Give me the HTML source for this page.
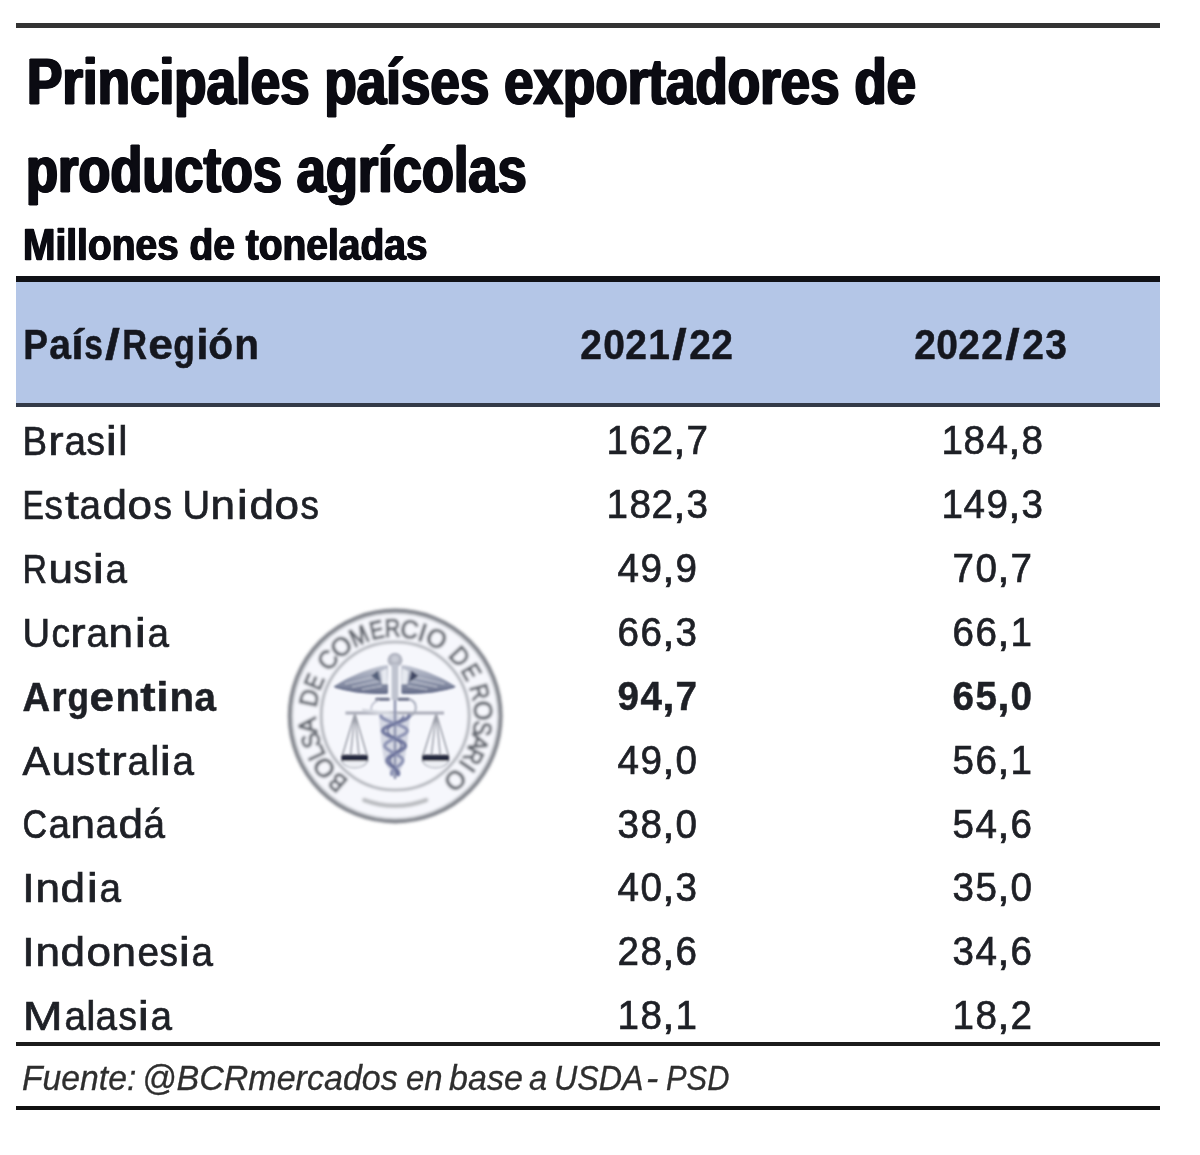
<!DOCTYPE html>
<html><head><meta charset="utf-8"><title>Principales países exportadores de productos agrícolas</title>
<style>
html,body{margin:0;padding:0;background:#fff;}
body{width:1200px;height:1155px;position:relative;overflow:hidden;font-family:"Liberation Sans",sans-serif;}
.t{position:absolute;white-space:nowrap;}
.ln{position:absolute;}
.c{display:inline-block;text-align:center;margin:0 -12px;}
#wrap{position:absolute;left:0;top:0;width:1200px;height:1155px;filter:blur(0.55px);}
</style></head><body><div id="wrap">
<div class="ln" style="left:16px;top:23.4px;width:1143.8px;height:4.7px;background:#333"></div>
<div class="ln" style="left:16.4px;top:276.4px;width:1143.4px;height:6px;background:#101116"></div>
<div class="ln" style="left:16.4px;top:282px;width:1143.4px;height:121px;background:#b4c6e7"></div>
<div class="ln" style="left:16.4px;top:402.7px;width:1143.4px;height:4.8px;background:#333a48"></div>
<div class="ln" style="left:16px;top:1042px;width:1144px;height:4px;background:#1c1c1c"></div>
<div class="ln" style="left:16px;top:1106px;width:1144px;height:4px;background:#111"></div>
<div class="t" style="left:26.6px;transform-origin:0 50%;top:42.87px;height:78px;line-height:78px;font-size:65px;font-weight:bold;font-style:normal;color:#0b0b12;transform:scaleX(0.815);-webkit-text-stroke:1px #0b0b12;text-shadow:1.4px 0 0 #0b0b12,-1.4px 0 0 #0b0b12;">Principales países exportadores de</div>
<div class="t" style="left:26.4px;transform-origin:0 50%;top:131.07px;height:78px;line-height:78px;font-size:65px;font-weight:bold;font-style:normal;color:#0b0b12;transform:scaleX(0.806);-webkit-text-stroke:1px #0b0b12;text-shadow:1.4px 0 0 #0b0b12,-1.4px 0 0 #0b0b12;">productos agrícolas</div>
<div class="t" style="left:22.6px;transform-origin:0 50%;top:218.92px;height:52px;line-height:52px;font-size:43.5px;font-weight:bold;font-style:normal;color:#0b0b12;transform:scaleX(0.895);-webkit-text-stroke:0.5px #0b0b12;text-shadow:0.8px 0 0 #0b0b12,-0.8px 0 0 #0b0b12;">Millones de toneladas</div>
<div class="t" style="left:23.20px;top:318.29px;height:52px;line-height:52px;font-size:43px;font-weight:bold;color:#15171f;-webkit-text-stroke:0.5px #15171f;"><span class="c" style="width:49.54px;transform:scaleX(0.864)">P</span><span class="c" style="width:46.35px;transform:scaleX(0.907)">a</span><span class="c" style="width:36.77px;transform:scaleX(1.037)">í</span><span class="c" style="width:43.16px;transform:scaleX(0.780)">s</span><span class="c" style="width:43.16px;transform:scaleX(1.250)">/</span><span class="c" style="width:49.54px;transform:scaleX(0.798)">R</span><span class="c" style="width:49.54px;transform:scaleX(1.036)">e</span><span class="c" style="width:46.35px;transform:scaleX(0.825)">g</span><span class="c" style="width:36.77px;transform:scaleX(1.037)">i</span><span class="c" style="width:49.54px;transform:scaleX(0.943)">ó</span><span class="c" style="width:49.54px;transform:scaleX(0.943)">n</span></div>
<div class="t" style="left:580.47px;top:320.18px;height:50px;line-height:50px;font-size:41.6px;font-weight:bold;color:#15171f;-webkit-text-stroke:0.5px #15171f;"><span class="c" style="width:46.35px;transform:scaleX(0.937)">2</span><span class="c" style="width:46.35px;transform:scaleX(0.937)">0</span><span class="c" style="width:46.35px;transform:scaleX(0.937)">2</span><span class="c" style="width:46.35px;transform:scaleX(0.937)">1</span><span class="c" style="width:43.16px;transform:scaleX(1.250)">/</span><span class="c" style="width:46.35px;transform:scaleX(0.937)">2</span><span class="c" style="width:46.35px;transform:scaleX(0.937)">2</span></div>
<div class="t" style="left:913.67px;top:320.18px;height:50px;line-height:50px;font-size:41.6px;font-weight:bold;color:#15171f;-webkit-text-stroke:0.5px #15171f;"><span class="c" style="width:46.35px;transform:scaleX(0.937)">2</span><span class="c" style="width:46.35px;transform:scaleX(0.937)">0</span><span class="c" style="width:46.35px;transform:scaleX(0.937)">2</span><span class="c" style="width:46.35px;transform:scaleX(0.937)">2</span><span class="c" style="width:43.16px;transform:scaleX(1.250)">/</span><span class="c" style="width:46.35px;transform:scaleX(0.937)">2</span><span class="c" style="width:46.35px;transform:scaleX(0.937)">3</span></div>
<div class="t" style="left:22.00px;top:417.23px;height:48px;line-height:48px;font-size:40px;font-weight:normal;color:#1e2026;-webkit-text-stroke:0.7px #1e2026;"><span class="c" style="width:49.54px;transform:scaleX(0.919)">B</span><span class="c" style="width:39.97px;transform:scaleX(1.151)">r</span><span class="c" style="width:46.35px;transform:scaleX(0.965)">a</span><span class="c" style="width:43.16px;transform:scaleX(0.920)">s</span><span class="c" style="width:36.77px;transform:scaleX(1.250)">i</span><span class="c" style="width:33.58px;transform:scaleX(1.035)">l</span></div>
<div class="t" style="left:606.31px;top:416.39px;height:49px;line-height:49px;font-size:41px;font-weight:normal;color:#1e2026;-webkit-text-stroke:0.7px #1e2026;"><span class="c" style="width:46.35px;transform:scaleX(0.941)">1</span><span class="c" style="width:46.35px;transform:scaleX(0.941)">6</span><span class="c" style="width:46.35px;transform:scaleX(0.941)">2</span><span class="c" style="width:36.77px;transform:scaleX(1.076)">,</span><span class="c" style="width:46.35px;transform:scaleX(0.941)">7</span></div>
<div class="t" style="left:941.11px;top:416.39px;height:49px;line-height:49px;font-size:41px;font-weight:normal;color:#1e2026;-webkit-text-stroke:0.7px #1e2026;"><span class="c" style="width:46.35px;transform:scaleX(0.941)">1</span><span class="c" style="width:46.35px;transform:scaleX(0.941)">8</span><span class="c" style="width:46.35px;transform:scaleX(0.941)">4</span><span class="c" style="width:36.77px;transform:scaleX(1.076)">,</span><span class="c" style="width:46.35px;transform:scaleX(0.941)">8</span></div>
<div class="t" style="left:22.00px;top:481.09px;height:48px;line-height:48px;font-size:40px;font-weight:normal;color:#1e2026;-webkit-text-stroke:0.7px #1e2026;"><span class="c" style="width:46.35px;transform:scaleX(0.804)">E</span><span class="c" style="width:43.16px;transform:scaleX(0.920)">s</span><span class="c" style="width:39.97px;transform:scaleX(1.250)">t</span><span class="c" style="width:46.35px;transform:scaleX(0.965)">a</span><span class="c" style="width:49.54px;transform:scaleX(1.102)">d</span><span class="c" style="width:49.54px;transform:scaleX(1.102)">o</span><span class="c" style="width:43.16px;transform:scaleX(0.920)">s</span><span class="c" style="width:33.58px">&nbsp;</span><span class="c" style="width:52.74px;transform:scaleX(0.955)">U</span><span class="c" style="width:49.54px;transform:scaleX(1.102)">n</span><span class="c" style="width:36.77px;transform:scaleX(1.250)">i</span><span class="c" style="width:49.54px;transform:scaleX(1.102)">d</span><span class="c" style="width:49.54px;transform:scaleX(1.102)">o</span><span class="c" style="width:43.16px;transform:scaleX(0.920)">s</span></div>
<div class="t" style="left:606.31px;top:480.25px;height:49px;line-height:49px;font-size:41px;font-weight:normal;color:#1e2026;-webkit-text-stroke:0.7px #1e2026;"><span class="c" style="width:46.35px;transform:scaleX(0.941)">1</span><span class="c" style="width:46.35px;transform:scaleX(0.941)">8</span><span class="c" style="width:46.35px;transform:scaleX(0.941)">2</span><span class="c" style="width:36.77px;transform:scaleX(1.076)">,</span><span class="c" style="width:46.35px;transform:scaleX(0.941)">3</span></div>
<div class="t" style="left:941.11px;top:480.25px;height:49px;line-height:49px;font-size:41px;font-weight:normal;color:#1e2026;-webkit-text-stroke:0.7px #1e2026;"><span class="c" style="width:46.35px;transform:scaleX(0.941)">1</span><span class="c" style="width:46.35px;transform:scaleX(0.941)">4</span><span class="c" style="width:46.35px;transform:scaleX(0.941)">9</span><span class="c" style="width:36.77px;transform:scaleX(1.076)">,</span><span class="c" style="width:46.35px;transform:scaleX(0.941)">3</span></div>
<div class="t" style="left:22.00px;top:544.95px;height:48px;line-height:48px;font-size:40px;font-weight:normal;color:#1e2026;-webkit-text-stroke:0.7px #1e2026;"><span class="c" style="width:49.54px;transform:scaleX(0.849)">R</span><span class="c" style="width:49.54px;transform:scaleX(1.102)">u</span><span class="c" style="width:43.16px;transform:scaleX(0.920)">s</span><span class="c" style="width:36.77px;transform:scaleX(1.250)">i</span><span class="c" style="width:46.35px;transform:scaleX(0.965)">a</span></div>
<div class="t" style="left:617.49px;top:544.11px;height:49px;line-height:49px;font-size:41px;font-weight:normal;color:#1e2026;-webkit-text-stroke:0.7px #1e2026;"><span class="c" style="width:46.35px;transform:scaleX(0.941)">4</span><span class="c" style="width:46.35px;transform:scaleX(0.941)">9</span><span class="c" style="width:36.77px;transform:scaleX(1.076)">,</span><span class="c" style="width:46.35px;transform:scaleX(0.941)">9</span></div>
<div class="t" style="left:952.29px;top:544.11px;height:49px;line-height:49px;font-size:41px;font-weight:normal;color:#1e2026;-webkit-text-stroke:0.7px #1e2026;"><span class="c" style="width:46.35px;transform:scaleX(0.941)">7</span><span class="c" style="width:46.35px;transform:scaleX(0.941)">0</span><span class="c" style="width:36.77px;transform:scaleX(1.076)">,</span><span class="c" style="width:46.35px;transform:scaleX(0.941)">7</span></div>
<div class="t" style="left:22.00px;top:608.81px;height:48px;line-height:48px;font-size:40px;font-weight:normal;color:#1e2026;-webkit-text-stroke:0.7px #1e2026;"><span class="c" style="width:52.74px;transform:scaleX(0.955)">U</span><span class="c" style="width:43.16px;transform:scaleX(0.920)">c</span><span class="c" style="width:39.97px;transform:scaleX(1.151)">r</span><span class="c" style="width:46.35px;transform:scaleX(0.965)">a</span><span class="c" style="width:49.54px;transform:scaleX(1.102)">n</span><span class="c" style="width:36.77px;transform:scaleX(1.250)">i</span><span class="c" style="width:46.35px;transform:scaleX(0.965)">a</span></div>
<div class="t" style="left:617.49px;top:607.97px;height:49px;line-height:49px;font-size:41px;font-weight:normal;color:#1e2026;-webkit-text-stroke:0.7px #1e2026;"><span class="c" style="width:46.35px;transform:scaleX(0.941)">6</span><span class="c" style="width:46.35px;transform:scaleX(0.941)">6</span><span class="c" style="width:36.77px;transform:scaleX(1.076)">,</span><span class="c" style="width:46.35px;transform:scaleX(0.941)">3</span></div>
<div class="t" style="left:952.29px;top:607.97px;height:49px;line-height:49px;font-size:41px;font-weight:normal;color:#1e2026;-webkit-text-stroke:0.7px #1e2026;"><span class="c" style="width:46.35px;transform:scaleX(0.941)">6</span><span class="c" style="width:46.35px;transform:scaleX(0.941)">6</span><span class="c" style="width:36.77px;transform:scaleX(1.076)">,</span><span class="c" style="width:46.35px;transform:scaleX(0.941)">1</span></div>
<div class="t" style="left:22.00px;top:672.67px;height:48px;line-height:48px;font-size:40px;font-weight:bold;color:#1e2026;-webkit-text-stroke:0.5px #1e2026;"><span class="c" style="width:52.74px;transform:scaleX(0.955)">A</span><span class="c" style="width:39.97px;transform:scaleX(0.985)">r</span><span class="c" style="width:46.35px;transform:scaleX(0.878)">g</span><span class="c" style="width:49.54px;transform:scaleX(1.102)">e</span><span class="c" style="width:49.54px;transform:scaleX(1.004)">n</span><span class="c" style="width:39.97px;transform:scaleX(1.151)">t</span><span class="c" style="width:36.77px;transform:scaleX(1.103)">i</span><span class="c" style="width:49.54px;transform:scaleX(1.004)">n</span><span class="c" style="width:46.35px;transform:scaleX(0.965)">a</span></div>
<div class="t" style="left:617.49px;top:671.83px;height:49px;line-height:49px;font-size:41px;font-weight:bold;color:#1e2026;-webkit-text-stroke:0.5px #1e2026;"><span class="c" style="width:46.35px;transform:scaleX(0.941)">9</span><span class="c" style="width:46.35px;transform:scaleX(0.941)">4</span><span class="c" style="width:36.77px;transform:scaleX(1.076)">,</span><span class="c" style="width:46.35px;transform:scaleX(0.941)">7</span></div>
<div class="t" style="left:952.29px;top:671.83px;height:49px;line-height:49px;font-size:41px;font-weight:bold;color:#1e2026;-webkit-text-stroke:0.5px #1e2026;"><span class="c" style="width:46.35px;transform:scaleX(0.941)">6</span><span class="c" style="width:46.35px;transform:scaleX(0.941)">5</span><span class="c" style="width:36.77px;transform:scaleX(1.076)">,</span><span class="c" style="width:46.35px;transform:scaleX(0.941)">0</span></div>
<div class="t" style="left:22.00px;top:736.53px;height:48px;line-height:48px;font-size:40px;font-weight:normal;color:#1e2026;-webkit-text-stroke:0.7px #1e2026;"><span class="c" style="width:52.74px;transform:scaleX(1.034)">A</span><span class="c" style="width:49.54px;transform:scaleX(1.102)">u</span><span class="c" style="width:43.16px;transform:scaleX(0.920)">s</span><span class="c" style="width:39.97px;transform:scaleX(1.250)">t</span><span class="c" style="width:39.97px;transform:scaleX(1.151)">r</span><span class="c" style="width:46.35px;transform:scaleX(0.965)">a</span><span class="c" style="width:33.58px;transform:scaleX(1.035)">l</span><span class="c" style="width:36.77px;transform:scaleX(1.250)">i</span><span class="c" style="width:46.35px;transform:scaleX(0.965)">a</span></div>
<div class="t" style="left:617.49px;top:735.69px;height:49px;line-height:49px;font-size:41px;font-weight:normal;color:#1e2026;-webkit-text-stroke:0.7px #1e2026;"><span class="c" style="width:46.35px;transform:scaleX(0.941)">4</span><span class="c" style="width:46.35px;transform:scaleX(0.941)">9</span><span class="c" style="width:36.77px;transform:scaleX(1.076)">,</span><span class="c" style="width:46.35px;transform:scaleX(0.941)">0</span></div>
<div class="t" style="left:952.29px;top:735.69px;height:49px;line-height:49px;font-size:41px;font-weight:normal;color:#1e2026;-webkit-text-stroke:0.7px #1e2026;"><span class="c" style="width:46.35px;transform:scaleX(0.941)">5</span><span class="c" style="width:46.35px;transform:scaleX(0.941)">6</span><span class="c" style="width:36.77px;transform:scaleX(1.076)">,</span><span class="c" style="width:46.35px;transform:scaleX(0.941)">1</span></div>
<div class="t" style="left:22.00px;top:800.39px;height:48px;line-height:48px;font-size:40px;font-weight:normal;color:#1e2026;-webkit-text-stroke:0.7px #1e2026;"><span class="c" style="width:49.54px;transform:scaleX(0.849)">C</span><span class="c" style="width:46.35px;transform:scaleX(0.965)">a</span><span class="c" style="width:49.54px;transform:scaleX(1.102)">n</span><span class="c" style="width:46.35px;transform:scaleX(0.965)">a</span><span class="c" style="width:49.54px;transform:scaleX(1.102)">d</span><span class="c" style="width:46.35px;transform:scaleX(0.965)">á</span></div>
<div class="t" style="left:617.49px;top:799.55px;height:49px;line-height:49px;font-size:41px;font-weight:normal;color:#1e2026;-webkit-text-stroke:0.7px #1e2026;"><span class="c" style="width:46.35px;transform:scaleX(0.941)">3</span><span class="c" style="width:46.35px;transform:scaleX(0.941)">8</span><span class="c" style="width:36.77px;transform:scaleX(1.076)">,</span><span class="c" style="width:46.35px;transform:scaleX(0.941)">0</span></div>
<div class="t" style="left:952.29px;top:799.55px;height:49px;line-height:49px;font-size:41px;font-weight:normal;color:#1e2026;-webkit-text-stroke:0.7px #1e2026;"><span class="c" style="width:46.35px;transform:scaleX(0.941)">5</span><span class="c" style="width:46.35px;transform:scaleX(0.941)">4</span><span class="c" style="width:36.77px;transform:scaleX(1.076)">,</span><span class="c" style="width:46.35px;transform:scaleX(0.941)">6</span></div>
<div class="t" style="left:22.00px;top:864.25px;height:48px;line-height:48px;font-size:40px;font-weight:normal;color:#1e2026;-webkit-text-stroke:0.7px #1e2026;"><span class="c" style="width:36.77px;transform:scaleX(1.103)">I</span><span class="c" style="width:49.54px;transform:scaleX(1.102)">n</span><span class="c" style="width:49.54px;transform:scaleX(1.102)">d</span><span class="c" style="width:36.77px;transform:scaleX(1.250)">i</span><span class="c" style="width:46.35px;transform:scaleX(0.965)">a</span></div>
<div class="t" style="left:617.49px;top:863.41px;height:49px;line-height:49px;font-size:41px;font-weight:normal;color:#1e2026;-webkit-text-stroke:0.7px #1e2026;"><span class="c" style="width:46.35px;transform:scaleX(0.941)">4</span><span class="c" style="width:46.35px;transform:scaleX(0.941)">0</span><span class="c" style="width:36.77px;transform:scaleX(1.076)">,</span><span class="c" style="width:46.35px;transform:scaleX(0.941)">3</span></div>
<div class="t" style="left:952.29px;top:863.41px;height:49px;line-height:49px;font-size:41px;font-weight:normal;color:#1e2026;-webkit-text-stroke:0.7px #1e2026;"><span class="c" style="width:46.35px;transform:scaleX(0.941)">3</span><span class="c" style="width:46.35px;transform:scaleX(0.941)">5</span><span class="c" style="width:36.77px;transform:scaleX(1.076)">,</span><span class="c" style="width:46.35px;transform:scaleX(0.941)">0</span></div>
<div class="t" style="left:22.00px;top:928.11px;height:48px;line-height:48px;font-size:40px;font-weight:normal;color:#1e2026;-webkit-text-stroke:0.7px #1e2026;"><span class="c" style="width:36.77px;transform:scaleX(1.103)">I</span><span class="c" style="width:49.54px;transform:scaleX(1.102)">n</span><span class="c" style="width:49.54px;transform:scaleX(1.102)">d</span><span class="c" style="width:49.54px;transform:scaleX(1.102)">o</span><span class="c" style="width:49.54px;transform:scaleX(1.102)">n</span><span class="c" style="width:46.35px;transform:scaleX(0.965)">e</span><span class="c" style="width:43.16px;transform:scaleX(0.920)">s</span><span class="c" style="width:36.77px;transform:scaleX(1.250)">i</span><span class="c" style="width:46.35px;transform:scaleX(0.965)">a</span></div>
<div class="t" style="left:617.49px;top:927.27px;height:49px;line-height:49px;font-size:41px;font-weight:normal;color:#1e2026;-webkit-text-stroke:0.7px #1e2026;"><span class="c" style="width:46.35px;transform:scaleX(0.941)">2</span><span class="c" style="width:46.35px;transform:scaleX(0.941)">8</span><span class="c" style="width:36.77px;transform:scaleX(1.076)">,</span><span class="c" style="width:46.35px;transform:scaleX(0.941)">6</span></div>
<div class="t" style="left:952.29px;top:927.27px;height:49px;line-height:49px;font-size:41px;font-weight:normal;color:#1e2026;-webkit-text-stroke:0.7px #1e2026;"><span class="c" style="width:46.35px;transform:scaleX(0.941)">3</span><span class="c" style="width:46.35px;transform:scaleX(0.941)">4</span><span class="c" style="width:36.77px;transform:scaleX(1.076)">,</span><span class="c" style="width:46.35px;transform:scaleX(0.941)">6</span></div>
<div class="t" style="left:22.00px;top:991.97px;height:48px;line-height:48px;font-size:40px;font-weight:normal;color:#1e2026;-webkit-text-stroke:0.7px #1e2026;"><span class="c" style="width:65.51px;transform:scaleX(1.196)">M</span><span class="c" style="width:46.35px;transform:scaleX(0.965)">a</span><span class="c" style="width:33.58px;transform:scaleX(1.035)">l</span><span class="c" style="width:46.35px;transform:scaleX(0.965)">a</span><span class="c" style="width:43.16px;transform:scaleX(0.920)">s</span><span class="c" style="width:36.77px;transform:scaleX(1.250)">i</span><span class="c" style="width:46.35px;transform:scaleX(0.965)">a</span></div>
<div class="t" style="left:617.49px;top:991.13px;height:49px;line-height:49px;font-size:41px;font-weight:normal;color:#1e2026;-webkit-text-stroke:0.7px #1e2026;"><span class="c" style="width:46.35px;transform:scaleX(0.941)">1</span><span class="c" style="width:46.35px;transform:scaleX(0.941)">8</span><span class="c" style="width:36.77px;transform:scaleX(1.076)">,</span><span class="c" style="width:46.35px;transform:scaleX(0.941)">1</span></div>
<div class="t" style="left:952.29px;top:991.13px;height:49px;line-height:49px;font-size:41px;font-weight:normal;color:#1e2026;-webkit-text-stroke:0.7px #1e2026;"><span class="c" style="width:46.35px;transform:scaleX(0.941)">1</span><span class="c" style="width:46.35px;transform:scaleX(0.941)">8</span><span class="c" style="width:36.77px;transform:scaleX(1.076)">,</span><span class="c" style="width:46.35px;transform:scaleX(0.941)">2</span></div>
<div class="t" style="left:22.34px;transform-origin:0 50%;top:1056.87px;height:42px;line-height:42px;font-size:35px;font-weight:normal;font-style:italic;color:#2e2e2e;transform:scaleX(0.963);-webkit-text-stroke:0.3px #2e2e2e;">Fuente:</div>
<div class="t" style="left:142.08px;transform-origin:0 50%;top:1056.87px;height:42px;line-height:42px;font-size:35px;font-weight:normal;font-style:italic;color:#2e2e2e;transform:scaleX(0.972);-webkit-text-stroke:0.3px #2e2e2e;">@BCRmercados</div>
<div class="t" style="left:406.26px;transform-origin:0 50%;top:1056.87px;height:42px;line-height:42px;font-size:35px;font-weight:normal;font-style:italic;color:#2e2e2e;transform:scaleX(0.939);-webkit-text-stroke:0.3px #2e2e2e;">en</div>
<div class="t" style="left:449.03px;transform-origin:0 50%;top:1056.87px;height:42px;line-height:42px;font-size:35px;font-weight:normal;font-style:italic;color:#2e2e2e;transform:scaleX(0.973);-webkit-text-stroke:0.3px #2e2e2e;">base</div>
<div class="t" style="left:529.27px;transform-origin:0 50%;top:1056.87px;height:42px;line-height:42px;font-size:35px;font-weight:normal;font-style:italic;color:#2e2e2e;transform:scaleX(0.929);-webkit-text-stroke:0.3px #2e2e2e;">a</div>
<div class="t" style="left:554.34px;transform-origin:0 50%;top:1056.87px;height:42px;line-height:42px;font-size:35px;font-weight:normal;font-style:italic;color:#2e2e2e;transform:scaleX(0.921);-webkit-text-stroke:0.3px #2e2e2e;">USDA</div>
<div class="t" style="left:646.09px;transform-origin:0 50%;top:1056.87px;height:42px;line-height:42px;font-size:35px;font-weight:normal;font-style:italic;color:#2e2e2e;transform:scaleX(1.056);-webkit-text-stroke:0.3px #2e2e2e;">-</div>
<div class="t" style="left:666.32px;transform-origin:0 50%;top:1056.87px;height:42px;line-height:42px;font-size:35px;font-weight:normal;font-style:italic;color:#2e2e2e;transform:scaleX(0.881);-webkit-text-stroke:0.3px #2e2e2e;">PSD</div>

<svg id="logo" width="240" height="240" viewBox="276 596 240 240" style="position:absolute;left:276px;top:596px;overflow:visible">
<defs>
<filter id="bl" x="-5%" y="-5%" width="110%" height="110%"><feGaussianBlur stdDeviation="1.5"/></filter>
<filter id="bl2" x="-5%" y="-5%" width="110%" height="110%"><feGaussianBlur stdDeviation="1.1"/></filter>
<linearGradient id="wg" x1="0" y1="0" x2="0" y2="1"><stop offset="0" stop-color="#c3c7d3"/><stop offset="0.55" stop-color="#9299ae"/><stop offset="1" stop-color="#666e8a"/></linearGradient>
<linearGradient id="bg" x1="0" y1="0" x2="1" y2="0"><stop offset="0" stop-color="#a5aac0"/><stop offset="0.5" stop-color="#8087a8"/><stop offset="1" stop-color="#a9aec4"/></linearGradient>
</defs>
<g filter="url(#bl)">
<circle cx="395.2" cy="716.0" r="105.2" fill="#f6f7fc" stroke="#7f828a" stroke-width="4.4"/>
<circle cx="395.2" cy="716.0" r="102.8" fill="none" stroke="#c9ccd1" stroke-width="1.6"/>
<circle cx="395.2" cy="716.0" r="74" fill="none" stroke="#a4a7ae" stroke-width="2.6"/>
<path d="M364.26,800.09 A89.6,89.6 0 0 0 426.14,800.09" fill="none" stroke="#b9bbbf" stroke-width="4.6" stroke-linecap="round"/>
<g font-family="Liberation Sans, sans-serif" font-size="25.4" fill="#62666e" stroke="#62666e" stroke-width="1.2" text-anchor="middle"><text transform="rotate(-139.0 395.2 716.0) translate(395.2 636.8) scale(0.86 1)" x="0" y="0">B</text><text transform="rotate(-126.1 395.2 716.0) translate(395.2 636.8) scale(1.0 1)" x="0" y="0">O</text><text transform="rotate(-115.0 395.2 716.0) translate(395.2 636.8) scale(0.88 1)" x="0" y="0">L</text><text transform="rotate(-106.2 395.2 716.0) translate(395.2 636.8) scale(0.86 1)" x="0" y="0">S</text><text transform="rotate(-96.2 395.2 716.0) translate(395.2 636.8) scale(0.95 1)" x="0" y="0">A</text><text transform="rotate(-78.0 395.2 716.0) translate(395.2 636.8) scale(0.93 1)" x="0" y="0">D</text><text transform="rotate(-67.0 395.2 716.0) translate(395.2 636.8) scale(0.82 1)" x="0" y="0">E</text><text transform="rotate(-50.2 395.2 716.0) translate(395.2 636.8) scale(0.97 1)" x="0" y="0">C</text><text transform="rotate(-37.8 395.2 716.0) translate(395.2 636.8) scale(1.0 1)" x="0" y="0">O</text><text transform="rotate(-24.4 395.2 716.0) translate(395.2 636.8) scale(0.86 1)" x="0" y="0">M</text><text transform="rotate(-12.2 395.2 716.0) translate(395.2 636.8) scale(0.82 1)" x="0" y="0">E</text><text transform="rotate(-1.8 395.2 716.0) translate(395.2 636.8) scale(0.85 1)" x="0" y="0">R</text><text transform="rotate(9.4 395.2 716.0) translate(395.2 636.8) scale(0.97 1)" x="0" y="0">C</text><text transform="rotate(18.2 395.2 716.0) translate(395.2 636.8) scale(1.0 1)" x="0" y="0">I</text><text transform="rotate(28.0 395.2 716.0) translate(395.2 636.8) scale(1.0 1)" x="0" y="0">O</text><text transform="rotate(47.3 395.2 716.0) translate(395.2 636.8) scale(0.93 1)" x="0" y="0">D</text><text transform="rotate(59.8 395.2 716.0) translate(395.2 636.8) scale(0.82 1)" x="0" y="0">E</text><text transform="rotate(74.3 395.2 716.0) translate(395.2 636.8) scale(0.85 1)" x="0" y="0">R</text><text transform="rotate(86.5 395.2 716.0) translate(395.2 636.8) scale(1.0 1)" x="0" y="0">O</text><text transform="rotate(98.2 395.2 716.0) translate(395.2 636.8) scale(0.86 1)" x="0" y="0">S</text><text transform="rotate(107.8 395.2 716.0) translate(395.2 636.8) scale(0.95 1)" x="0" y="0">A</text><text transform="rotate(117.0 395.2 716.0) translate(395.2 636.8) scale(0.85 1)" x="0" y="0">R</text><text transform="rotate(125.0 395.2 716.0) translate(395.2 636.8) scale(1.0 1)" x="0" y="0">I</text><text transform="rotate(136.8 395.2 716.0) translate(395.2 636.8) scale(1.0 1)" x="0" y="0">O</text></g>
</g>
<g filter="url(#bl2)">
<!-- knob + staff -->
<ellipse cx="395" cy="660" rx="7.6" ry="7.2" fill="#b4b7c3"/>
<ellipse cx="395" cy="659" rx="3.5" ry="3.2" fill="#c9ccd6"/>
<rect x="391.6" y="664" width="6.8" height="36" fill="#bfc3cf"/>
<!-- wings -->
<path d="M388,665 C378,665.5 352,674 333.3,686.8 C346,691 366,694.5 388,693.5 Z" fill="url(#wg)"/>
<path d="M401.4,665 C411.4,665.5 437.4,674 456.09999999999997,686.8 C443.4,691 423.4,694.5 401.4,693.5 Z" fill="url(#wg)"/>
<path d="M335,687 C350,691.5 368,694 387,693" fill="none" stroke="#636b88" stroke-width="1.5"/>
<path d="M454.4,687 C439.4,691.5 421.4,694 402.4,693" fill="none" stroke="#636b88" stroke-width="1.5"/>
<!-- feather lines -->
<path d="M345,684 L378,676 M352,687 L380,681 M362,689.5 L382,686" stroke="#c9cdd9" stroke-width="1" fill="none"/>
<path d="M444.4,684 L411.4,676 M437.4,687 L409.4,681 M427.4,689.5 L407.4,686" stroke="#c9cdd9" stroke-width="1" fill="none"/>
<!-- wing shoulders dark -->
<path d="M371,676 L378,670.5 L380,682 Z" fill="#55607a"/>
<path d="M418.4,676 L411.4,670.5 L409.4,682 Z" fill="#3f4763"/>
<!-- center highlights -->
<path d="M381,671 L387,668.5 L388,684 L382,684 Z" fill="#e6e9f0"/>
<path d="M408.4,671 L402.4,668.5 L401.4,684 L407.4,684 Z" fill="#e6e9f0"/>
<!-- snake heads -->
<path d="M376.6,699.3 L388.5,699.3 M399,699.3 L408.5,699.3" stroke="#6a7088" stroke-width="3" fill="none" stroke-linecap="round"/>
<!-- loops -->
<path d="M409,699 C418,702 418.5,713 408,717.5" fill="none" stroke="#a9adbd" stroke-width="2"/>
<path d="M379,700 C371,703 369,709 374,713" fill="none" stroke="#b9bcc9" stroke-width="1.6"/>
<!-- beam -->
<path d="M345.5,713 L444,713" stroke="#a9acb8" stroke-width="3.2" fill="none"/>
<path d="M362,710 L398,715" stroke="#d5d8e0" stroke-width="3" fill="none"/>
<!-- body -->
<path d="M379,716 L381,742 L384.5,763 L391,772 L395,780 L399.5,772 L404,763 L407.5,742 L410,716 Z" fill="#c9cddb" opacity="0.75"/>
<path d="M395,700 L395,779" stroke="#8f95b0" stroke-width="2.6" fill="none"/>
<path d="M409.0,716.0 L408.2,717.5 L406.1,719.0 L402.9,720.5 L399.1,722.0 L395.0,723.5 L391.0,725.0 L387.4,726.5 L384.7,728.0 L383.1,729.5 L382.7,731.0 L383.5,732.5 L385.3,734.0 L388.1,735.5 L391.4,737.0 L395.0,738.5 L398.5,740.0 L401.5,741.5 L403.7,743.0 L405.0,744.5 L405.3,746.0 L404.6,747.5 L403.0,749.0 L400.7,750.5 L397.9,752.0 L395.0,753.5 L392.3,755.0 L389.9,756.5 L388.2,758.0 L387.3,759.5 L387.2,761.0 L387.9,762.5 L389.3,764.0 L391.0,765.5 L393.0,767.0 L395.0,768.5 L396.7,770.0 L397.9,771.5 L398.5,773.0 L398.3,774.5" stroke="#767da3" stroke-width="3.8" fill="none" stroke-linecap="round"/>
<path d="M381.0,716.0 L381.8,717.5 L383.9,719.0 L387.1,720.5 L390.9,722.0 L395.0,723.5 L399.0,725.0 L402.6,726.5 L405.3,728.0 L406.9,729.5 L407.3,731.0 L406.5,732.5 L404.7,734.0 L401.9,735.5 L398.6,737.0 L395.0,738.5 L391.5,740.0 L388.5,741.5 L386.3,743.0 L385.0,744.5 L384.7,746.0 L385.4,747.5 L387.0,749.0 L389.3,750.5 L392.1,752.0 L395.0,753.5 L397.7,755.0 L400.1,756.5 L401.8,758.0 L402.7,759.5 L402.8,761.0 L402.1,762.5 L400.7,764.0 L399.0,765.5 L397.0,767.0 L395.0,768.5 L393.3,770.0 L392.1,771.5 L391.5,773.0 L391.7,774.5" stroke="#8f95b6" stroke-width="3.4" fill="none" stroke-linecap="round"/>
<path d="M403.4,716.0 L402.9,717.5 L401.6,719.0 L399.8,720.5 L397.5,722.0 L395.0,723.5 L392.6,725.0 L390.5,726.5 L388.8,728.0 L387.9,729.5 L387.6,731.0 L388.1,732.5 L389.2,734.0 L390.8,735.5 L392.9,737.0 L395.0,738.5 L397.1,740.0 L398.9,741.5 L400.2,743.0 L401.0,744.5 L401.2,746.0 L400.8,747.5 L399.8,749.0 L398.4,750.5 L396.7,752.0 L395.0,753.5 L393.4,755.0 L392.0,756.5 L390.9,758.0 L390.4,759.5 L390.4,761.0 L390.8,762.5 L391.6,764.0 L392.6,765.5 L393.8,767.0 L395.0,768.5 L396.0,770.0 L396.7,771.5 L397.1,773.0 L397.0,774.5" stroke="#5c6390" stroke-width="1.4" fill="none" stroke-linecap="round"/>
<!-- left pan -->
<path d="M354.6,714.5 L342.2,756 M354.8,714.5 L350.5,756 M355,714.5 L359,756 M355.2,714.5 L367.2,756" stroke="#9da0aa" stroke-width="1.5" fill="none"/>
<path d="M341.3,760 C344,770.5 365,770.5 368,760 Z" fill="#eceef3" stroke="#b4b7c0" stroke-width="1.2"/>
<rect x="341.3" y="754.8" width="26.7" height="6.2" rx="1.6" fill="#262a40"/>
<!-- right pan -->
<path d="M435.9,714.5 L422.8,756 M436.1,714.5 L431.3,756 M436.3,714.5 L440.3,756 M436.5,714.5 L448.7,756" stroke="#9da0aa" stroke-width="1.5" fill="none"/>
<path d="M422,760 C425,770.5 446,770.5 449.2,760 Z" fill="#eceef3" stroke="#b4b7c0" stroke-width="1.2"/>
<rect x="422.1" y="754.8" width="27.1" height="6.2" rx="1.6" fill="#262a40"/>
</g>
</svg>

</div></body></html>
